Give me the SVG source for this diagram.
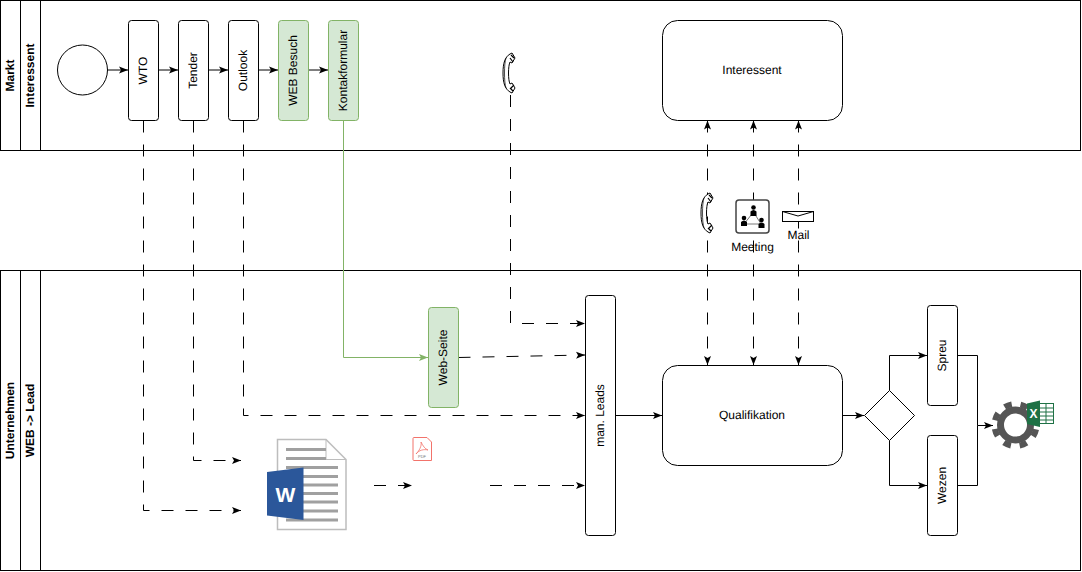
<svg xmlns="http://www.w3.org/2000/svg" width="1082" height="572" viewBox="0 0 1082 572">
<style>
.n{fill:#fff;stroke:#000;stroke-width:1}
.g{fill:#d5e8d4;stroke:#82b366;stroke-width:1}
.t{font-family:"Liberation Sans",Arial,sans-serif;font-size:12px;fill:#000;text-anchor:middle;dominant-baseline:central;text-rendering:geometricPrecision}
.b{font-weight:bold}
.c{fill:none;stroke:#000;stroke-width:1}
.d{stroke-dasharray:12 12}
</style>
<defs>
<marker id="a" markerUnits="userSpaceOnUse" markerWidth="11" markerHeight="10" refX="9" refY="4.5" orient="auto-start-reverse"><path d="M0 1L9 4.500L0 8L2 4.500Z" fill="#000"/></marker>
<marker id="ag" markerUnits="userSpaceOnUse" markerWidth="11" markerHeight="10" refX="9" refY="4.5" orient="auto"><path d="M0 1L9 4.500L0 8L2 4.500Z" fill="#82b366"/></marker>
<g id="phone"><path d="M7 1C2 4 0 10 0 20C0 30 2 36 7 39L9 40L12 35L9 30L7 31C5 27 5 13 7 9L9 10L12 5L9 0Z" fill="#fff" stroke="#000" stroke-width="1"/><path d="M3 5C1 10 1 30 3 35" fill="none" stroke="#000" stroke-width="0.700"/><path d="M8 2L11 5M7 5L10 9M8 35L11 32M7 35L10 38" stroke="#000" stroke-width="1.200"/></g>
</defs>

<g id="lane-markt">
<rect class="n" x="0.500" y="0.500" width="1080" height="150"/>
<path class="c" d="M20.500 0.500V150.500M40.500 0.500V150.500"/>
<text class="t b" transform="translate(10 75.500) rotate(-90)">Markt</text>
<text class="t b" transform="translate(30 75.500) rotate(-90)">Interessent</text>
</g>
<g id="lane-unternehmen">
<rect class="n" x="0.500" y="270.500" width="1080" height="300"/>
<path class="c" d="M20.500 270.500V570.500M40.500 270.500V570.500"/>
<text class="t b" transform="translate(10 420.500) rotate(-90)">Unternehmen</text>
<text class="t b" transform="translate(30 420.500) rotate(-90)">WEB -&gt; Lead</text>
</g>

<g id="connectors">
<path class="c" d="M107.500 70H128" marker-end="url(#a)"/>
<path class="c" d="M158.500 70H178" marker-end="url(#a)"/>
<path class="c" d="M208.500 70H228" marker-end="url(#a)"/>
<path class="c" d="M258.500 70H278" marker-end="url(#a)"/>
<path class="c" d="M308.500 70H328" marker-end="url(#a)"/>
<path class="c d" d="M143.500 120.500V510.500H241" marker-end="url(#a)"/>
<path class="c d" d="M193.500 120.500V460.500H241" marker-end="url(#a)"/>
<path class="c d" d="M243.500 120.500V415.500H585" marker-end="url(#a)"/>
<path fill="none" stroke="#82b366" d="M343.500 120.500V357.500H428" marker-end="url(#ag)"/>
<path class="c d" d="M458.500 357.500L585 355" marker-end="url(#a)"/>
<path class="c d" d="M510.500 95V323.500H585" marker-end="url(#a)"/>
<path class="c d" d="M374 485.500H412" marker-end="url(#a)"/>
<path class="c d" d="M490 485.500H585" marker-end="url(#a)"/>
<path class="c" d="M615.500 415.500H662" marker-end="url(#a)"/>
<path class="c d" d="M707.500 120.500V365" marker-start="url(#a)" marker-end="url(#a)"/>
<path class="c d" d="M753.500 120.500V365" marker-start="url(#a)" marker-end="url(#a)"/>
<path class="c d" d="M798.500 120.500V365" marker-start="url(#a)" marker-end="url(#a)"/>
<path class="c" d="M842.500 415.500H864" marker-end="url(#a)"/>
<path class="c" d="M889.500 390.500V355.500H927" marker-end="url(#a)"/>
<path class="c" d="M889.500 440.500V485.500H927" marker-end="url(#a)"/>
<path class="c" d="M957.500 355.500H977.500V425.500H993" marker-end="url(#a)"/>
<path class="c" d="M957.500 485.500H977.500V425.500"/>
</g>

<g id="start"><circle class="n" cx="82.500" cy="70" r="25"/></g>
<g id="wto"><rect class="n" x="128.500" y="20.500" width="30" height="100" rx="3"/><text class="t" transform="translate(142.500 70.500) rotate(-90)">WTO</text></g>
<g id="tender"><rect class="n" x="178.500" y="20.500" width="30" height="100" rx="3"/><text class="t" transform="translate(192.500 70.500) rotate(-90)">Tender</text></g>
<g id="outlook"><rect class="n" x="228.500" y="20.500" width="30" height="100" rx="3"/><text class="t" transform="translate(242.500 70.500) rotate(-90)">Outlook</text></g>
<g id="web-besuch"><rect class="g" x="278.500" y="20.500" width="30" height="100" rx="3"/><text class="t" transform="translate(292.500 70.500) rotate(-90)">WEB Besuch</text></g>
<g id="kontaktformular"><rect class="g" x="328.500" y="20.500" width="30" height="100" rx="3"/><text class="t" transform="translate(342.500 70.500) rotate(-90)">Kontakformular</text></g>
<g id="phone-top"><use href="#phone" x="503" y="53"/></g>
<g id="interessent"><rect class="n" x="662.500" y="20.500" width="180" height="100" rx="15"/><text class="t" x="752" y="70">Interessent</text></g>

<g id="phone-mid"><use href="#phone" x="701" y="193"/></g>
<g id="meeting"><rect x="736" y="200" width="33" height="33" rx="3" fill="#fff" stroke="#444" stroke-width="1.500"/>
<path d="M753.500 212L744 224H761Z" fill="none" stroke="#555" stroke-width="0.800"/>
<g fill="#000"><circle cx="753.500" cy="207.500" r="2.300"/><path d="M750.500 216V211.500Q753.500 208.500 756.500 211.500V216Z"/><circle cx="744" cy="218" r="2.300"/><path d="M741 226V222Q744 219 747 222V226Z"/><circle cx="761.500" cy="220" r="2.300"/><path d="M758.500 228V224Q761.500 221 764.500 224V228Z"/></g>
<text class="t" x="752.500" y="246.500">Meeting</text></g>
<g id="mail"><rect x="782.500" y="211.500" width="31" height="10" fill="#fff" stroke="#000"/><path d="M782.500 211.500L798 216L813.500 211.500" fill="none" stroke="#000"/><text class="t" x="798.500" y="234.500">Mail</text></g>

<g id="web-seite"><rect class="g" x="428.500" y="307.500" width="30" height="100" rx="3"/><text class="t" transform="translate(442.500 357.500) rotate(-90)">Web-Seite</text></g>
<g id="man-leads"><rect class="n" x="585.500" y="295.500" width="30" height="240" rx="3"/><text class="t" transform="translate(600 415.500) rotate(-90)">man. Leads</text></g>
<g id="qualifikation"><rect class="n" x="662.500" y="365.500" width="180" height="100" rx="15"/><text class="t" x="752" y="415">Qualifikation</text></g>
<g id="gateway"><path class="n" d="M889.500 390.500L914.500 415.500L889.500 440.500L864.500 415.500Z"/></g>
<g id="spreu"><rect class="n" x="927.500" y="305.500" width="30" height="100" rx="3"/><text class="t" transform="translate(941.500 355.500) rotate(-90)">Spreu</text></g>
<g id="wezen"><rect class="n" x="927.500" y="435.500" width="30" height="100" rx="3"/><text class="t" transform="translate(941.500 485.500) rotate(-90)">Wezen</text></g>

<g id="word-doc">
<path d="M277.500 439.500H326L346 459.500V529.500H277.500Z" fill="#fff" stroke="#bdbdbd" stroke-width="1.500"/>
<path d="M326 439.500V459.500H346" fill="none" stroke="#bdbdbd"/>
<path d="M286 449.500H326M286 458.500H326M286 467.500H338M286 476.500H338M286 485H338M286 493.500H338M286 502H338M286 511H338M286 520H338" stroke="#a0a0a0" stroke-width="3"/>
<path d="M267 472L303.500 467.500V520L267 515.500Z" fill="#2b579a"/>
<text x="285.500" y="494" text-anchor="middle" dominant-baseline="central" font-family="'Liberation Sans',sans-serif" font-weight="bold" font-size="21" fill="#fff">W</text>
</g>
<g id="pdf-icon">
<path d="M414 437.500H427L431.500 442V460.500H414Q413 460.500 413 459.500V438.500Q413 437.500 414 437.500Z" fill="#fff" stroke="#f2736b" stroke-width="1"/>
<path d="M416 454C419 451 422 446 421 442C423 446 425 449 428 450C424 449 419 450 416 454Z" fill="none" stroke="#f2736b" stroke-width="0.800"/>
<text x="422" y="456" text-anchor="middle" dominant-baseline="central" font-family="'Liberation Sans',sans-serif" font-size="4" fill="#777">PDF</text>
</g>
<g id="gear-excel">
<circle cx="1015.500" cy="425" r="15" fill="none" stroke="#555" stroke-width="7"/>
<circle cx="1015.500" cy="425" r="21" fill="none" stroke="#555" stroke-width="6" stroke-dasharray="7.500 8.994" stroke-dashoffset="-4.500"/>
<rect x="1037" y="403.500" width="16.500" height="20" fill="#fff" stroke="#1e7145"/>
<path d="M1040 408H1053M1040 412H1053M1040 416H1053M1040 420H1053M1046 404V423" stroke="#1e7145" stroke-width="1"/>
<path d="M1027 403.500L1040 400.500V427L1027 424Z" fill="#1e7145"/>
<text x="1033.500" y="414" text-anchor="middle" dominant-baseline="central" font-family="'Liberation Sans',sans-serif" font-weight="bold" font-size="12" fill="#fff">X</text>
</g>
</svg>
